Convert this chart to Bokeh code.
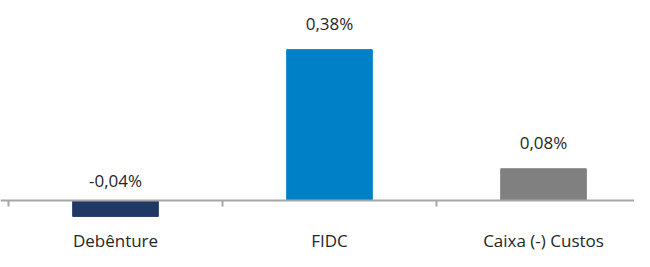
from bokeh.plotting import figure
from bokeh.models import Range1d, ColumnDataSource, Span
from bokeh.core.properties import value
from bokeh.embed import file_html
from bokeh.resources import INLINE

categories = ["Debênture", "FIDC", "Caixa (-) Custos"]
values = [-0.04, 0.38, 0.08]
labels = ["-0,04%", "0,38%", "0,08%"]
colors = ["#1f3864", "#0080c6", "#808080"]

FONT = "Open Sans"
TEXT_COLOR = "#262626"
AXIS_COLOR = "#a6a6a6"
W, H = 634, 251
cat_px = 214.0          # pixels per category
left_pad_px = 8.0       # gap before the first category boundary
px_per_unit = 397.0     # pixels per 1 percentage point
zero_px_from_top = 200.0
tick_len_px = 6.0

n = len(categories)
xs = [i + 0.5 for i in range(n)]
boundaries = list(range(n + 1))
y_top = zero_px_from_top / px_per_unit
y_bot = -(H - zero_px_from_top) / px_per_unit

src = ColumnDataSource(dict(
    x=xs, top=values, color=colors, label=labels, cat=categories,
    ly=[max(v, 0) for v in values],
    loff=[-26 if v >= 0 else -20 for v in values],
    cy=[y_bot] * n,
))

p = figure(width=W, height=H, output_backend="svg", toolbar_location=None,
           x_range=Range1d(-left_pad_px / cat_px, (W - left_pad_px) / cat_px),
           y_range=Range1d(y_bot, y_top), min_border=0)
p.outline_line_color = None
p.xgrid.visible = False
p.ygrid.visible = False
p.xaxis.visible = False
p.yaxis.visible = False
p.background_fill_color = "white"
p.border_fill_color = "white"

# bars
p.vbar(x="x", top="top", bottom=0, width=0.4, color="color", source=src)

# zero line (category axis) and boundary ticks
p.add_layout(Span(location=0, dimension="width", line_color=AXIS_COLOR, line_width=2))
p.segment(x0=boundaries, y0=[0] * (n + 1), x1=boundaries,
          y1=[-tick_len_px / px_per_unit] * (n + 1),
          line_color=AXIS_COLOR, line_width=2)

# value labels
p.text(x="x", y="ly", text="label", source=src, y_offset="loff",
       text_align="center", text_baseline="middle",
       text_font=value(FONT), text_font_size="17px", text_color=TEXT_COLOR)

# category labels
p.text(x="x", y="cy", text="cat", source=src, y_offset=-11,
       text_align="center", text_baseline="middle",
       text_font=value(FONT), text_font_size="17px", text_color=TEXT_COLOR)

open("out.html", "w").write(file_html(p, INLINE))
